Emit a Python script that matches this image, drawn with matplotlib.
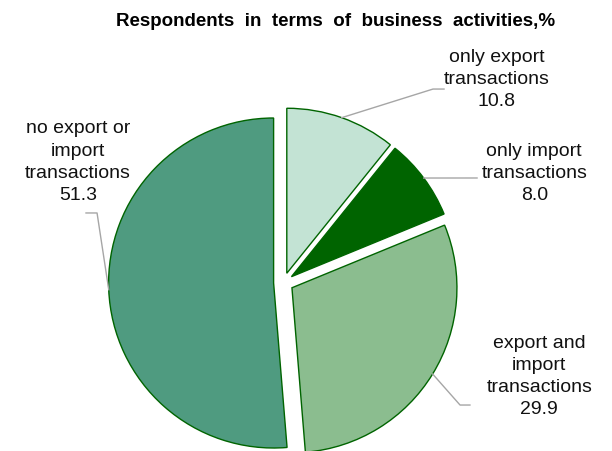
import numpy as np
import matplotlib
matplotlib.use('Agg')
import matplotlib.pyplot as plt

plt.rcParams['font.family'] = ['Liberation Sans', 'DejaVu Sans']

# data
categories = ["only export\ntransactions", "only import\ntransactions",
              "export and\nimport\ntransactions", "no export or\nimport\ntransactions"]
shares = [10.8, 8.0, 29.9, 51.3]
colors = ['#c3e3d4', '#006400', '#8bbd8f', '#4f9b80']

# label layout (data coords relative to pie, radius 1)
text_pos = [(1.29, 1.23), (1.52, 0.66), (1.55, -0.57), (-1.245, 0.73)]
elbows = [[(0.906, 1.173), (0.973, 1.173)],
          [(1.173, 0.634)],
          [(1.070, -0.742), (1.130, -0.742)],
          [(-1.130, 0.422), (-1.197, 0.422)]]
explode = 0.06

fig = plt.figure(figsize=(6.12, 4.51), dpi=100)
ax = fig.add_axes([77.25 / 612, -37.85 / 451, 412.5 / 612, 412.5 / 451])

wedges, _ = ax.pie(shares, colors=colors, startangle=90, counterclock=False,
                   explode=[explode] * len(shares),
                   wedgeprops=dict(edgecolor='#006400', linewidth=1.0))
ax.set_xlim(-1.25, 1.25)
ax.set_ylim(-1.25, 1.25)
ax.set_aspect('equal')

for w, lab, val, tp, elb in zip(wedges, categories, shares, text_pos, elbows):
    mid = np.deg2rad((w.theta1 + w.theta2) / 2)
    cx, cy = w.center
    anchor = (cx + np.cos(mid), cy + np.sin(mid))
    pts = [anchor] + elb
    xs, ys = zip(*pts)
    ax.plot(xs, ys, color='#a6a6a6', linewidth=1.0, clip_on=False)
    ax.text(tp[0], tp[1], f"{lab}\n{val:.1f}", ha='center', va='center',
            fontsize=14, linespacing=1.4, color='#111111')

fig.text(336 / 612, 1 - 22 / 451, "Respondents  in  terms  of  business  activities,%",
         ha='center', va='center', fontsize=13.5, fontweight='bold')

fig.savefig('out.png', dpi=100)
